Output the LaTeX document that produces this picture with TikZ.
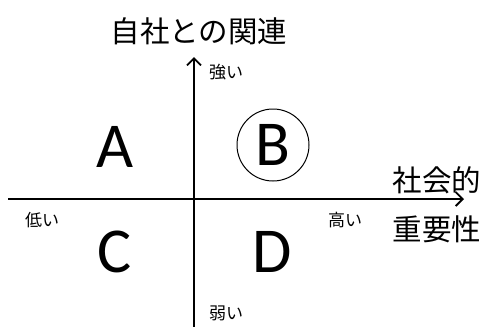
\documentclass[tikz,border=0pt]{standalone}
\usepackage{fontspec}
\newfontfamily\jpfont{Noto Sans CJK JP}
\newfontfamily\quadfont{Carlito}
\usetikzlibrary{arrows.meta}
\begin{document}
\begin{tikzpicture}
[x=1pt,y=-1pt,%
  axisDecorate/.style={-{Straight Barb[length=7pt,width=14pt,line width=1.8pt]},line width=1.8pt},%
  titleDecorate/.style={font=\jpfont\fontsize{29.5}{29.5}\selectfont},%
  labelDecorate/.style={font=\jpfont\fontsize{17}{17}\selectfont},%
  quadDecorate/.style={font=\quadfont\fontsize{64}{64}\selectfont,inner sep=0pt}]
\useasboundingbox (0,0) rectangle (488,327);
%% axes
\coordinate (xstart) at (8,199);
\coordinate (xend) at (464,199);
\coordinate (ystart) at (194,327);
\coordinate (yend) at (194,57);
\draw[axisDecorate] (xstart) -- (xend);
\draw[axisDecorate] (ystart) -- (yend);
%% axis titles
\node (title) at (199,31) [titleDecorate] {自社との関連};
\node (social) at (437,180) [titleDecorate] {社会的};
\node (importance) at (437,229) [titleDecorate] {重要性};
%% axis ends
\foreach \nodename/\x/\y/\txt in {
  strong/226/72/強い, weak/226/313/弱い,
  low/42/220/低い, high/345/220/高い}
{
  \node (\nodename) at (\x,\y) [labelDecorate] {\txt};
}
%% quadrants
\foreach \nodename/\x/\y in {
  A/115/147, B/273/145, C/115/252, D/272/252}
{
  \node (\nodename) at (\x,\y) [quadDecorate] {\nodename};
}
\draw[line width=1pt] (B) circle (36);
\end{tikzpicture}
\end{document}
